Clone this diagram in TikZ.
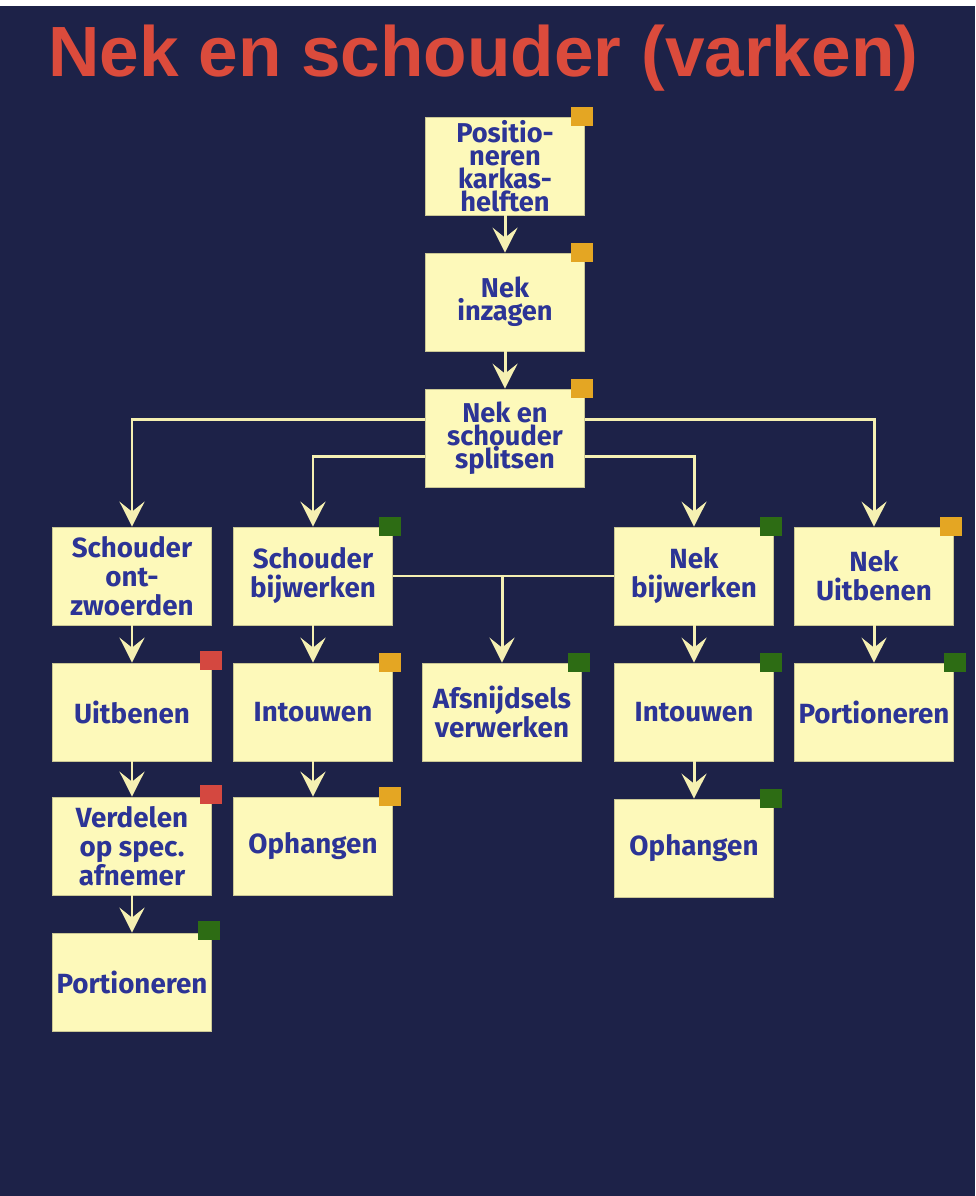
\documentclass[tikz,border=0pt]{standalone}
\usepackage{fontspec}
\setmainfont{Fira Sans}
\newfontfamily\titlefont{Liberation Sans}
\usetikzlibrary{arrows.meta}
\definecolor{navy}{RGB}{29,34,72}
\definecolor{paper}{RGB}{253,249,186}
\definecolor{ink}{RGB}{44,52,150}
\definecolor{wire}{RGB}{245,240,178}
\definecolor{tomato}{RGB}{219,75,60}
\definecolor{mkorange}{RGB}{228,166,35}
\definecolor{mkgreen}{RGB}{45,108,20}
\definecolor{mkred}{RGB}{212,72,64}
\tikzset{
  stepbox/.style={draw=paper!80!black, line width=0.4pt, fill=paper, text=ink,
    font=\bfseries\fontsize{15.8}{16.5}\selectfont, align=center,
    minimum width=3.18cm, minimum height=1.96cm, inner sep=1pt},
  tight/.style={font=\bfseries\fontsize{15.5}{13.2}\selectfont},
  flag/.style={minimum width=0.44cm, minimum height=0.38cm, inner sep=0pt},
  wirel/.style={wire, line width=1.7pt},
  conn/.style={wirel, -{Stealth[length=0.5cm, width=0.5cm, inset=0.2cm]}}
}
\begin{document}
\begin{tikzpicture}[x=0.02cm, y=-0.02cm]
\useasboundingbox (0,0) rectangle (975,1196);
\fill[white] (0,0) rectangle (975,6);
\fill[navy] (0,6) rectangle (975,1196);
\node[anchor=base west, inner sep=0pt, text=tomato, font=\titlefont\bfseries\fontsize{40.5}{48}\selectfont] (title) at (48,77) {Nek en schouder (varken)};
\node[stepbox, tight] (pos) at (505,166) {Positio-\\neren\\karkas-\\helften};
\node[stepbox, tight] (inz) at (505,302) {Nek\\inzagen};
\node[stepbox, tight] (split) at (505,438) {Nek en\\schouder\\splitsen};
\node[stepbox] (ontz) at (132,576) {Schouder\\ont-\\zwoerden};
\node[stepbox] (sbij) at (313,576) {Schouder\\bijwerken};
\node[stepbox] (nbij) at (694,576) {Nek\\bijwerken};
\node[stepbox] (nuit) at (874,576) {Nek\\Uitbenen};
\node[stepbox] (uitb) at (132,712) {Uitbenen};
\node[stepbox] (into1) at (313,712) {Intouwen};
\node[stepbox] (afsn) at (502,712) {Afsnijdsels\\verwerken};
\node[stepbox] (into2) at (694,712) {Intouwen};
\node[stepbox] (port1) at (874,712) {Portioneren};
\node[stepbox] (verd) at (132,846) {Verdelen\\op spec.\\afnemer};
\node[stepbox] (oph1) at (313,846) {Ophangen};
\node[stepbox] (oph2) at (694,848) {Ophangen};
\node[stepbox] (port2) at (132,982) {Portioneren};
\node[flag, fill=mkorange] (pos-flag) at ([xshift=-0.06cm]pos.north east) {};
\node[flag, fill=mkorange] (inz-flag) at ([xshift=-0.06cm]inz.north east) {};
\node[flag, fill=mkorange] (split-flag) at ([xshift=-0.06cm]split.north east) {};
\node[flag, fill=mkgreen] (sbij-flag) at ([xshift=-0.06cm]sbij.north east) {};
\node[flag, fill=mkgreen] (nbij-flag) at ([xshift=-0.06cm]nbij.north east) {};
\node[flag, fill=mkorange] (nuit-flag) at ([xshift=-0.06cm]nuit.north east) {};
\node[flag, fill=mkred] (uitb-flag) at ([xshift=-0.02cm,yshift=0.05cm]uitb.north east) {};
\node[flag, fill=mkorange] (into1-flag) at ([xshift=-0.06cm]into1.north east) {};
\node[flag, fill=mkgreen] (afsn-flag) at ([xshift=-0.06cm]afsn.north east) {};
\node[flag, fill=mkgreen] (into2-flag) at ([xshift=-0.06cm]into2.north east) {};
\node[flag, fill=mkgreen] (port1-flag) at ([xshift=0.02cm]port1.north east) {};
\node[flag, fill=mkred] (verd-flag) at ([xshift=-0.02cm,yshift=0.05cm]verd.north east) {};
\node[flag, fill=mkorange] (oph1-flag) at ([xshift=-0.06cm]oph1.north east) {};
\node[flag, fill=mkgreen] (oph2-flag) at ([xshift=-0.06cm]oph2.north east) {};
\node[flag, fill=mkgreen] (port2-flag) at ([xshift=-0.06cm,yshift=0.05cm]port2.north east) {};
\draw[conn] (pos) -- (inz);
\draw[conn] (inz) -- (split);
\draw[conn] (split.167) -| (ontz.north);
\draw[conn] (split.193) -| (sbij.north);
\draw[conn] (split.-13) -| (nbij.north);
\draw[conn] (split.13) -| (nuit.north);
\draw[wirel] (sbij.east) -- (nbij.west);
\draw[conn] (sbij.east -| afsn.north) -- (afsn.north);
\draw[conn] (ontz) -- (uitb);
\draw[conn] (uitb) -- (verd);
\draw[conn] (verd) -- (port2);
\draw[conn] (sbij) -- (into1);
\draw[conn] (into1) -- (oph1);
\draw[conn] (nbij) -- (into2);
\draw[conn] (into2) -- (oph2);
\draw[conn] (nuit) -- (port1);
\end{tikzpicture}
\end{document}
